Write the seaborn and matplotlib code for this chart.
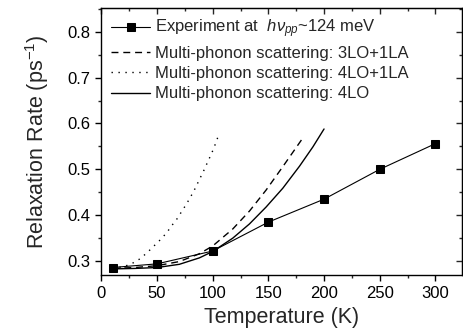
import matplotlib
matplotlib.use("Agg")
import matplotlib.pyplot as plt
import seaborn as sns
from matplotlib.ticker import MultipleLocator, FormatStrFormatter

# Experimental data
exp_T = [10, 50, 100, 150, 200, 250, 300]
exp_rate = [0.286, 0.294, 0.322, 0.385, 0.435, 0.500, 0.556]

# Multi-phonon scattering: 3LO+1LA (dashed)
lo3la_T = [10, 30, 50, 70, 88, 100, 118, 133, 148, 163, 182]
lo3la_rate = [0.284, 0.286, 0.290, 0.299, 0.316, 0.333, 0.370, 0.409, 0.455, 0.506, 0.572]

# Multi-phonon scattering: 4LO+1LA (dotted)
lo4la_T = [10, 20, 27, 34, 40.5, 46.4, 52.7, 58.4, 63.1, 67.9, 72.1, 76.3, 79.9,
           83.5, 86.7, 89.7, 92.9, 95.6, 98.7, 101.4, 103.7, 106.1]
lo4la_rate = [0.284, 0.288, 0.294, 0.304, 0.317, 0.331, 0.346, 0.361, 0.377, 0.392,
              0.408, 0.424, 0.439, 0.455, 0.471, 0.486, 0.502, 0.517, 0.533, 0.549,
              0.564, 0.580]

# Multi-phonon scattering: 4LO (solid)
lo4_T = [10, 30, 50, 70, 88, 100, 118, 133, 148, 163, 178, 190, 200]
lo4_rate = [0.283, 0.284, 0.286, 0.293, 0.307, 0.321, 0.350, 0.381, 0.418, 0.459,
            0.507, 0.549, 0.588]

labels = [r"Experiment at  $h\nu_{pp}$~124 meV",
          "Multi-phonon scattering: 3LO+1LA",
          "Multi-phonon scattering: 4LO+1LA",
          "Multi-phonon scattering: 4LO"]

sns.set_style("ticks")
plt.rcParams['font.family'] = ['Liberation Sans', 'DejaVu Sans']
plt.rcParams['mathtext.fontset'] = 'custom'
plt.rcParams['mathtext.it'] = 'Liberation Sans:italic'
plt.rcParams['mathtext.rm'] = 'Liberation Sans'

fig = plt.figure(figsize=(4.63, 3.28), dpi=100)
ax = fig.add_axes([0.219, 0.162, 0.779, 0.814])

sns.lineplot(x=exp_T, y=exp_rate, ax=ax, color='black', lw=0.8, marker='s',
             markersize=6, markeredgecolor='black', label=labels[0])
sns.lineplot(x=lo3la_T, y=lo3la_rate, ax=ax, color='black', lw=1.0,
             label=labels[1], estimator=None, sort=False)
ax.lines[-1].set_dashes([5, 3.5])
sns.lineplot(x=lo4la_T, y=lo4la_rate, ax=ax, color='black', lw=1.0,
             label=labels[2], estimator=None, sort=False)
ax.lines[-1].set_dashes([1, 4])
sns.lineplot(x=lo4_T, y=lo4_rate, ax=ax, color='black', lw=1.0,
             label=labels[3], estimator=None, sort=False)

ax.set_xlim(0, 324)
ax.set_ylim(0.27, 0.852)
ax.xaxis.set_major_locator(MultipleLocator(50))
ax.xaxis.set_minor_locator(MultipleLocator(25))
ax.yaxis.set_major_locator(MultipleLocator(0.1))
ax.yaxis.set_minor_locator(MultipleLocator(0.05))
ax.yaxis.set_major_formatter(FormatStrFormatter('%.1f'))

for s in ax.spines.values():
    s.set_linewidth(1.0)
    s.set_color('black')
ax.tick_params(axis='both', which='major', length=4.5, width=1.0, labelsize=12,
               direction='out', colors='black', top=False, right=False)
ax.tick_params(axis='both', which='minor', length=2.5, width=1.0, direction='out',
               top=False, right=False)

ax2 = ax.secondary_xaxis('top')
ax2.xaxis.set_major_locator(MultipleLocator(50))
ax2.xaxis.set_minor_locator(MultipleLocator(25))
ax2.tick_params(which='major', direction='in', length=4.5, width=1.0, labeltop=False)
ax2.tick_params(which='minor', direction='in', length=2.5, width=1.0)
ax2.set_xticklabels([])
ax3 = ax.secondary_yaxis('right')
ax3.yaxis.set_major_locator(MultipleLocator(0.1))
ax3.yaxis.set_minor_locator(MultipleLocator(0.05))
ax3.tick_params(which='major', direction='in', length=4.5, width=1.0, labelright=False)
ax3.tick_params(which='minor', direction='in', length=2.5, width=1.0)
ax3.set_yticklabels([])

ax.set_xlabel("Temperature (K)", fontsize=15.5, labelpad=4)
ax.set_ylabel(r"Relaxation Rate (ps$^{\mathregular{-1}}$)", fontsize=15.5, labelpad=12)

leg = ax.legend(loc='upper left', frameon=False, fontsize=12, handlelength=2.3,
                handletextpad=0.3, labelspacing=0.32, borderaxespad=0.2,
                bbox_to_anchor=(0.0, 1.0))

fig.savefig("out.png", dpi=100)
